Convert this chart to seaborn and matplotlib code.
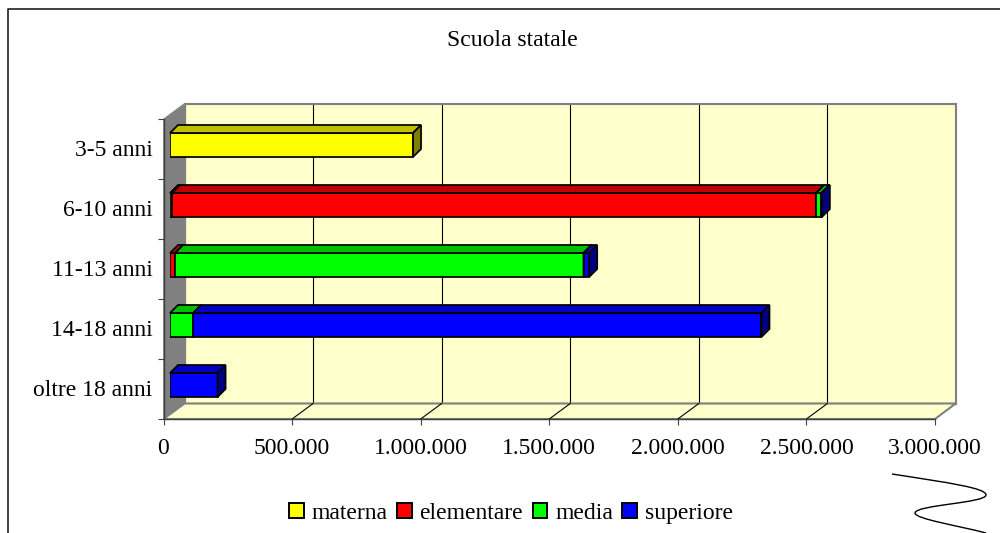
import pandas as pd
import seaborn as sns
import matplotlib.pyplot as plt
from matplotlib.patches import Patch, Polygon, PathPatch
from matplotlib.path import Path
from matplotlib.transforms import IdentityTransform

categories = ['3-5 anni', '6-10 anni', '11-13 anni', '14-18 anni', 'oltre 18 anni']
materna = [945000, 8000, 0, 0, 0]
elementare = [0, 2505000, 20000, 0, 0]
media = [0, 20000, 1588000, 90000, 0]
superiore = [0, 1500, 22000, 2210000, 185000]
series_names = ['materna', 'elementare', 'media', 'superiore']
series_values = [materna, elementare, media, superiore]
colors = ['#FFFF00', '#FF0000', '#00FF00', '#0000FF']
top_colors = ['#C0C000', '#C00000', '#00C000', '#0000C0']
side_colors = ['#808000', '#800000', '#008000', '#000080']
x_ticks = [0, 500000, 1000000, 1500000, 2000000, 2500000, 3000000]
x_labels = ['0', '500.000', '1.000.000', '1.500.000', '2.000.000', '2.500.000', '3.000.000']

W, H = 1000, 533
sns.set_style('white')
plt.rcParams['font.family'] = ['Liberation Serif', 'DejaVu Serif']
plt.rcParams['font.size'] = 17
plt.rcParams['text.color'] = 'black'
plt.rcParams['xtick.labelcolor'] = 'black'
plt.rcParams['ytick.labelcolor'] = 'black'

fig = plt.figure(figsize=(W / 100, H / 100), dpi=100)


def place(left, top, right, bottom):
    # pixel box, y counted from the top of the image
    return fig.add_axes([left / W, 1 - bottom / H, (right - left) / W, (bottom - top) / H])


def px(x, y):
    return (x, H - y)


def setup(a):
    a.set_xlim(0, 3000000)
    a.set_ylim(4.5, -0.5)


# back wall
ax_back = place(184.5, 103.5, 955.7, 403.5)
setup(ax_back)
ax_back.set_facecolor('#FFFFCC')
ax_back.set_xticks(x_ticks)
ax_back.set_xticklabels([])
ax_back.set_yticks([])
ax_back.grid(axis='x', color='black', lw=0.8)
for side in ax_back.spines.values():
    side.set_color('#808080')
    side.set_linewidth(1.5)

# side wall and floor
wall = Polygon([px(163.5, 119), px(184.5, 103.5), px(184.5, 403.5), px(163.5, 419)],
               fc='#808080', ec='#808080', lw=0.5, transform=IdentityTransform())
floor = Polygon([px(163.5, 419), px(184.5, 403.5), px(955.7, 403.5), px(935, 419)],
                fc='#FFFFCC', ec='#808080', lw=1.5, transform=IdentityTransform())
fig.add_artist(floor)
fig.add_artist(wall)

# front plane with the axis ticks and labels
ax = place(163.5, 119, 935, 419)
setup(ax)
ax.patch.set_alpha(0)
ax.set_zorder(2)
for name in ['top', 'right']:
    ax.spines[name].set_visible(False)
ax.spines['left'].set_color('#404040')
ax.spines['bottom'].set_color('#404040')
ax.spines['left'].set_linewidth(1)
ax.spines['bottom'].set_linewidth(1)
ax.set_xticks(x_ticks)
ax.set_xticklabels(x_labels)
ax.set_yticks([-0.5, 0.5, 1.5, 2.5, 3.5, 4.5])
ax.set_yticklabels([])
ax.set_yticks(range(len(categories)), labels=categories, minor=True)
ax.tick_params(axis='both', which='major', left=True, bottom=True, length=4, width=0.8,
               color='#404040', pad=10)
ax.tick_params(axis='x', which='major', pad=9.5)
ax.tick_params(axis='y', which='major', length=4.5)
ax.tick_params(axis='y', which='minor', left=False, length=0, pad=8)
for lab in ax.get_yticklabels(minor=True):
    lab.set_verticalalignment('center')
    lab.set_y(lab.get_position()[1])
    lab.set_transform(lab.get_transform() + plt.matplotlib.transforms.Affine2D().translate(0, -2))

# floor lines joining the front ticks with the back grid
for t in x_ticks[1:-1]:
    x0, y0 = ax.transData.transform((t, 4.5))
    ax.add_line(plt.Line2D([x0, x0 + 21], [y0, y0 + 15.5], color='black', lw=0.8,
                           transform=IdentityTransform(), clip_on=False))

# bars sit a bit inside the depth of the box
ax_bars = place(170, 115, 941.5, 415)
setup(ax_bars)
ax_bars.patch.set_alpha(0)
ax_bars.axis('off')
ax_bars.set_zorder(3)

left = [0] * len(categories)
bar_depth = 8
for name, values, c, top_c, side_c in zip(series_names, series_values, colors, top_colors, side_colors):
    df = pd.DataFrame({'age': categories, 'n': values, 'left': left})
    df = df[df['n'] > 0]
    before = len(ax_bars.patches)
    sns.barplot(data=df, x='n', y='age', order=categories, orient='h', left=df['left'].values,
                color=c, saturation=1, width=0.4, edgecolor='black', linewidth=1.25, ax=ax_bars)
    for bar in ax_bars.patches[before:]:
        if bar.get_width() <= 0:
            continue
        x, y = bar.get_xy()
        (x0, y0) = ax_bars.transData.transform((x, y + bar.get_height()))
        (x1, y1) = ax_bars.transData.transform((x + bar.get_width(), y))
        top = Polygon([(x0, y1), (x0 + bar_depth, y1 + bar_depth), (x1 + bar_depth, y1 + bar_depth), (x1, y1)],
                      fc=top_c, ec='black', lw=1.25, transform=IdentityTransform(), clip_on=False)
        right = Polygon([(x1, y0), (x1 + bar_depth, y0 + bar_depth), (x1 + bar_depth, y1 + bar_depth), (x1, y1)],
                        fc=side_c, ec='black', lw=1.25, transform=IdentityTransform(), clip_on=False)
        ax_bars.add_patch(top)
        ax_bars.add_patch(right)
    left = [a + b for a, b in zip(left, values)]
ax_bars.set_xlim(0, 3000000)
ax_bars.set_ylim(4.5, -0.5)
ax_bars.set_xlabel('')
ax_bars.set_ylabel('')

fig.text(512 / W, 1 - 40 / H, 'Scuola statale', ha='center', va='center', fontsize=17)

handles = [Patch(fc=c, ec='black', lw=1.4, label=n) for n, c in zip(series_names, colors)]
fig.legend(handles=handles, loc='center', bbox_to_anchor=(511 / W, 1 - 513.5 / H), ncol=4, frameon=False,
           fontsize=17, handlelength=0.62, handleheight=0.62, handletextpad=0.33, columnspacing=0.4,
           borderpad=0, borderaxespad=0)

# chart frame, cut off on the right and at the bottom
fig.add_artist(plt.Line2D([7.5, 7.5, 1000], [0, H - 8.5, H - 8.5], color='#202020', lw=1.2,
                          transform=IdentityTransform()))
tear = Path([px(892, 474), px(950, 483), px(986, 488), px(986, 495), px(986, 503), px(915, 505),
             px(915, 513), px(915, 519), px(960, 526), px(986, 533)],
            [Path.MOVETO] + [Path.CURVE4] * 9)
fig.add_artist(PathPatch(tear, fc='none', ec='black', lw=1, transform=IdentityTransform()))

fig.savefig('out.png', dpi=100)
